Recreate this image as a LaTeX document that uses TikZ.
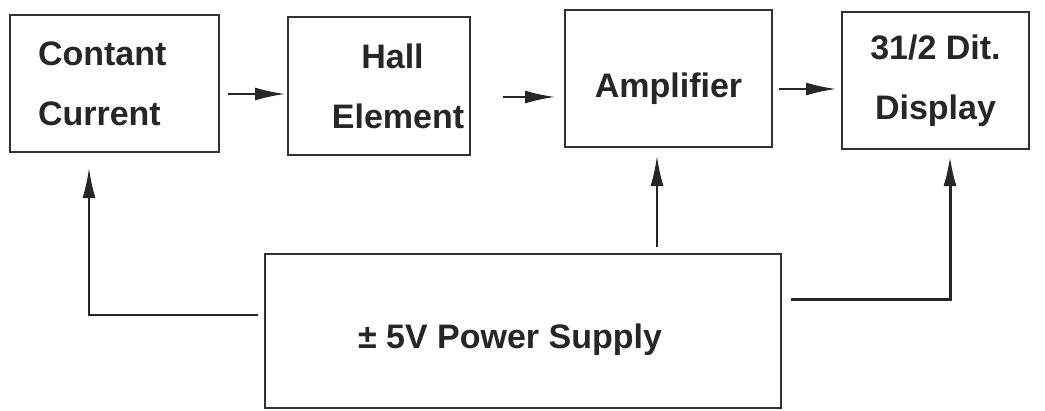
\documentclass[tikz,border=0pt]{standalone}
\usepackage{fontspec}
\setmainfont{Liberation Sans}
\usetikzlibrary{arrows.meta,calc}
\begin{document}
\begin{tikzpicture}[x=1pt,y=-1pt,
  blk/.style={draw=black!80,line width=2pt,inner sep=0pt,font=\bfseries\fontsize{34}{60}\selectfont,text=black!85},
  arr/.style={draw=black!85,line width=2pt,-{Latex[length=30pt,width=13pt]}}]
\useasboundingbox (0,0) rectangle (1045,410);
\node[blk,minimum width=209pt,minimum height=137pt,text width=153pt,align=left] (cc) at (114.5,83.5) {Contant\\Current};
\node[blk,minimum width=182pt,minimum height=138pt,align=center] (hall) at (379,86) {\hspace*{27pt}Hall\\\hspace*{38pt}Element};
\node[blk,minimum width=207pt,minimum height=137pt,text height=43pt,text depth=6pt] (amp) at (668.5,78.5) {Amplifier};
\node[blk,minimum width=187pt,minimum height=137pt,align=center] (disp) at (935.5,80.5) {31/2 Dit.\\Display};
\node[blk,minimum width=516pt,minimum height=154pt,text height=40pt,text depth=6pt] (ps) at (523,331) {± 5V Power Supply\hspace*{26pt}};
\draw[arr] ($(cc.east)+(8,10.5)$) -- ($(hall.west)+(-2,8)$);
\draw[arr] ($(hall.east)+(32,11)$) -- ($(amp.west)+(-9,18.5)$);
\draw[arr] ($(amp.east)+(6,10.5)$) -- ($(disp.west)+(-5,8.5)$);
\draw[arr] ($(ps.west)+(-6,-16)$) -| ($(cc.south west)+(80,15)$);
\draw[arr] ($(ps.north)+(134,-6)$) -- ($(amp.south)+(-11.5,8)$);
\draw[arr,line width=3pt] ($(ps.east)+(9,-32)$) -| ($(disp.south)+(14.5,6)$);
\end{tikzpicture}
\end{document}
